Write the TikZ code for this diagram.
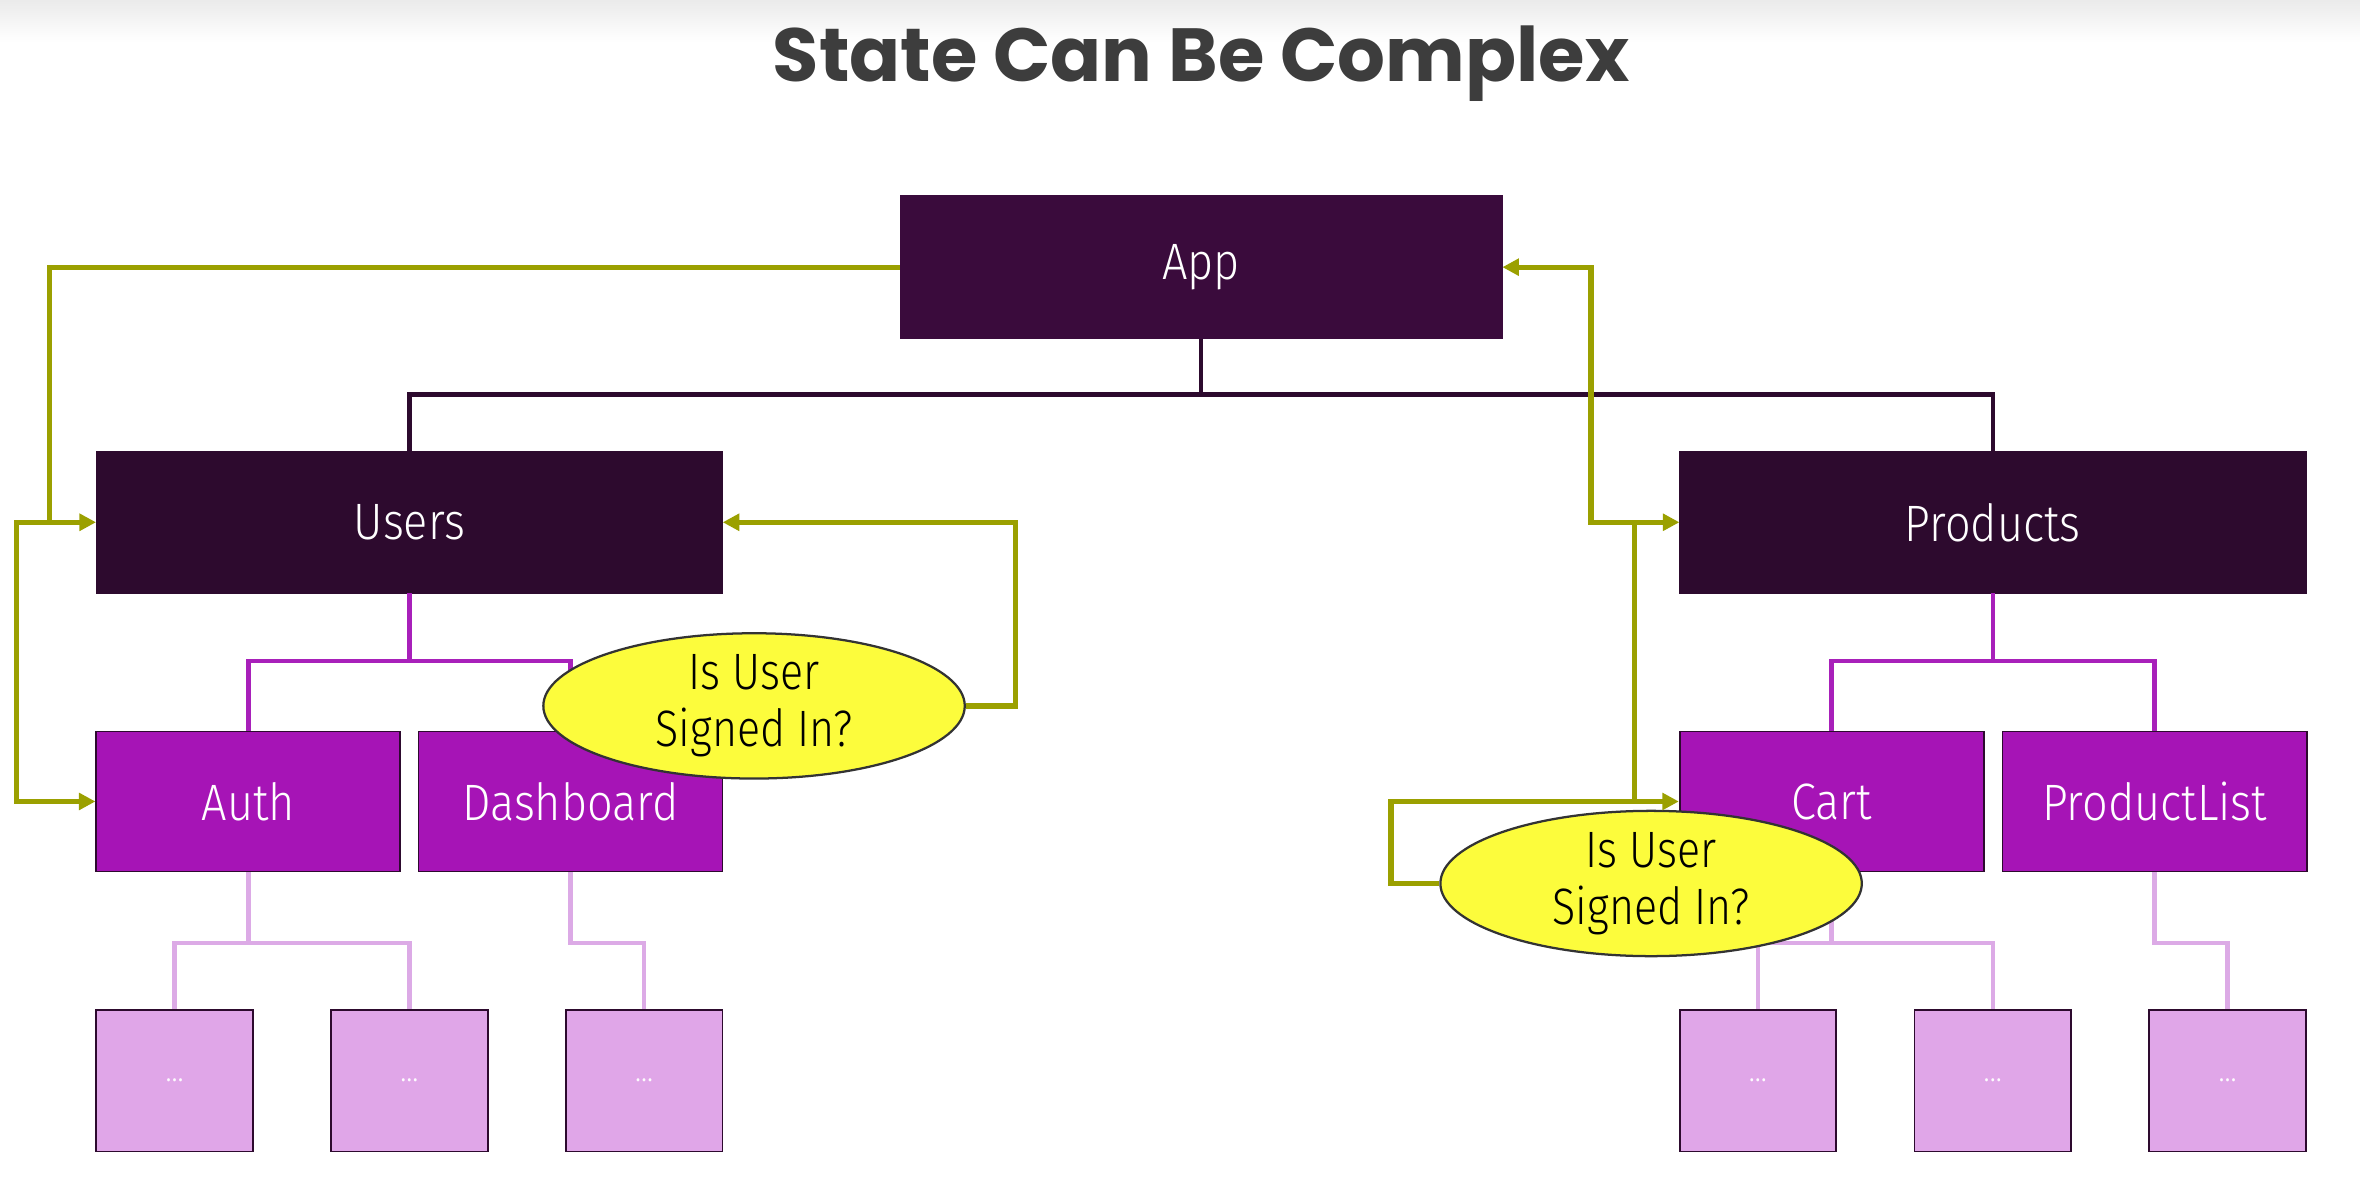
\documentclass[tikz,border=0pt]{standalone}
\usepackage{fontspec}
\setmainfont{Fira Sans}[UprightFont={* Light}, FakeStretch=0.88]
\newfontfamily\titlefont{Poppins}
\newfontfamily\bubblefont{Fira Sans}[UprightFont={* Light}, FakeStretch=0.84]
\usepackage{xcolor}
\usepackage{tikz}
\usetikzlibrary{positioning, shapes.geometric, arrows.meta}
\definecolor{stDark}{RGB}{45, 10, 46}
\definecolor{stApp}{RGB}{58, 11, 60}
\definecolor{stMid}{RGB}{166, 20, 182}
\definecolor{stMidLine}{RGB}{168, 32, 186}
\definecolor{stLeaf}{RGB}{224, 166, 232}
\definecolor{stLeafLine}{RGB}{220, 170, 230}
\definecolor{stOlive}{RGB}{155, 160, 0}
\definecolor{stYellow}{RGB}{252, 252, 60}
\definecolor{stTitle}{RGB}{61, 61, 61}
\tikzset{
    base/.style={
        align=center,
        inner sep=0pt
    },
    rootbox/.style={
        base,
        rectangle,
        fill=stApp,
        draw=stApp,
        text=white,
        font=\fontsize{34}{40}\selectfont,
        minimum width=400pt,
        minimum height=95pt
    },
    groupbox/.style={
        rootbox,
        fill=stDark,
        draw=stDark,
        minimum width=416pt,
        minimum height=94pt
    },
    pagebox/.style={
        rootbox,
        fill=stMid,
        draw=stDark,
        line width=1.2pt,
        minimum width=202pt,
        minimum height=93pt
    },
    leafbox/.style={
        base,
        rectangle,
        fill=stLeaf,
        draw=stDark,
        line width=1.2pt,
        text=white!95!stLeaf,
        font=\fontsize{22}{26}\selectfont,
        minimum width=104pt,
        minimum height=94pt
    },
    bubble/.style={
        base,
        ellipse,
        fill=stYellow,
        draw=black!80,
        line width=1.5pt,
        text=black,
        font=\bubblefont\fontsize{34}{38}\selectfont,
        minimum width=280pt,
        minimum height=90pt
    },
    treetop/.style={
        line width=3pt,
        color=stDark
    },
    treemid/.style={
        line width=3pt,
        color=stMidLine
    },
    treeleaf/.style={
        line width=3pt,
        color=stLeafLine
    },
    link/.style={
        line width=3.5pt,
        color=stOlive,
        >={Triangle[length=11pt, width=11pt]}
    }
}

\begin{document}
\begin{tikzpicture}[x=1pt, y=-1pt]
  \useasboundingbox (0,0) rectangle (1568,792);
  \shade[top color=black!8, bottom color=white] (0,0) rectangle (1568,28);

  % Title
  \node[base, text=stTitle, font=\titlefont\bfseries\fontsize{50}{56}\selectfont] (title) at (798,42) {State Can Be Complex};

  % Components
  \node[rootbox] (app) at (798,177.5) {App};
  \node[groupbox] (users) at (272,347) {Users};
  \node[groupbox] (products) at (1324,347) {Products};
  \node[pagebox] (auth) at (165,532.5) {Auth};
  \node[pagebox] (dashboard) at (379,532.5) {Dashboard};
  \node[pagebox] (cart) at (1217,532.5) {Cart};
  \node[pagebox] (productlist) at (1431.5,532.5) {ProductList};

  % Leaves
  \node[leafbox] (leafA) at (116,718) {...};
  \node[leafbox] (leafB) at (272,718) {...};
  \node[leafbox] (leafC) at (428,718) {...};
  \node[leafbox] (leafD) at (1168,718) {...};
  \node[leafbox] (leafE) at (1324,718) {...};
  \node[leafbox] (leafF) at (1480,718) {...};

  % Tree edges
  \draw[treetop] (app.south) -- ++(0,37) -| (users.north);
  \draw[treetop] (app.south) -- ++(0,37) -| (products.north);
  \draw[treemid] (users.south) -- ++(0,45) -| (auth.north);
  \draw[treemid] (users.south) -- ++(0,45) -| (dashboard.north);
  \draw[treemid] (products.south) -- ++(0,45) -| (cart.north);
  \draw[treemid] (products.south) -- ++(0,45) -| (productlist.north);
  \draw[treeleaf] (auth.south) -- ++(0,47) -| (leafA.north);
  \draw[treeleaf] (auth.south) -- ++(0,47) -| (leafB.north);
  \draw[treeleaf] (dashboard.south) -- ++(0,47) -| (leafC.north);
  \draw[treeleaf] (cart.south) -- ++(0,47) -| (leafD.north);
  \draw[treeleaf] (cart.south) -- ++(0,47) -| (leafE.north);
  \draw[treeleaf] (productlist.south) -- ++(0,47) -| (leafF.north);

  % State flow
  \coordinate (leftA) at (33,347);
  \coordinate (leftB) at (11,347);
  \coordinate (rightA) at (1057,347);
  \coordinate (rightB) at (1086,532);
  \draw[link] (app.west) -| (leftA);
  \draw[link, <->] (auth.west) -| (leftB) -- (users.west);
  \draw[link, <->] (app.east) -| (rightA) -- (products.west);
  \draw[link] (rightB) -- (rightB |- products.west);

  % Questions
  \node[bubble] (signA) at (501,469) {Is User\\Signed In?};
  \node[bubble] (signB) at (1097,587) {Is User\\Signed In?};
  \draw[link, ->] (signA.east) -- ++(33,0) |- (users.east);
  \draw[link, ->] (signB.west) -- ++(-32,0) |- (cart.west);
\end{tikzpicture}
\end{document}
